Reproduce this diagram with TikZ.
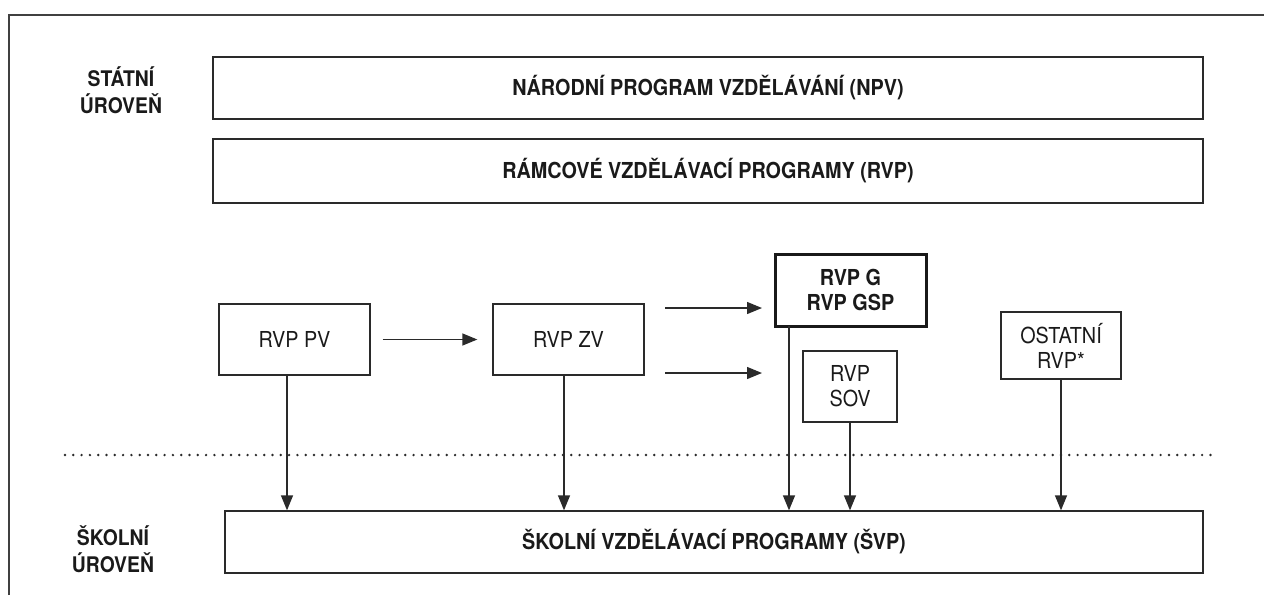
\documentclass[tikz,border=0pt]{standalone}
\usepackage{fontspec}
\setmainfont{TeX Gyre Heros}[FakeStretch=0.9]
\usetikzlibrary{arrows.meta}
\definecolor{ink}{HTML}{1A1A1A}
\definecolor{edge}{HTML}{2A2A2A}
\tikzset{
  box/.style={draw=edge, line width=1.3pt, rectangle, inner sep=0pt, align=center, text=ink,
    font=\fontsize{22}{25}\selectfont},
  wide/.style={box, font=\fontsize{22}{25}\selectfont\bfseries},
  boldbox/.style={box, draw=black!90, line width=3pt, font=\fontsize{22}{25}\selectfont\bfseries},
  lvl/.style={align=center, text=ink, inner sep=0pt, font=\fontsize{21.5}{27}\selectfont\bfseries},
  arr/.style={draw=edge, line width=1.3pt, -{Triangle[length=15pt,width=12pt]}, color=edge},
  dotmark/.style={fill=edge, draw=none},
  frame/.style={draw=black!75, line width=1.3pt}
}
\begin{document}
\begin{tikzpicture}[x=1pt,y=-1pt]
\useasboundingbox (0,0) rectangle (1264,595);
\draw[frame] (9,595) -- (9,15) -- (1264,15);

\node[lvl] (lstat) at (121,90) {STÁTNÍ\\ÚROVEŇ};
\node[lvl] (lskol) at (113,549) {ŠKOLNÍ\\ÚROVEŇ};

\node[wide, minimum width=990pt, minimum height=62pt] (npv) at (708,88) {NÁRODNÍ PROGRAM VZDĚLÁVÁNÍ (NPV)};
\node[wide, minimum width=990pt, minimum height=64pt] (rvp) at (708,171) {RÁMCOVÉ VZDĚLÁVACÍ PROGRAMY (RVP)};

\node[box, minimum width=151pt, minimum height=71pt] (pv) at (294.5,339.5) {RVP PV};
\node[box, minimum width=151pt, minimum height=71pt] (zv) at (568.5,339.5) {RVP ZV};
\node[boldbox, minimum width=151pt, minimum height=72pt] (g) at (850.5,290) {RVP G\\RVP GSP};
\node[box, minimum width=94pt, minimum height=71pt] (sov) at (850,386.5) {RVP\\SOV};
\node[box, minimum width=120pt, minimum height=67pt] (ost) at (1061,345.5) {OSTATNÍ\\RVP*};

\node[wide, minimum width=978pt, minimum height=62pt] (svp) at (714,542) {ŠKOLNÍ VZDĚLÁVACÍ PROGRAMY (ŠVP)};

% dotted divider
\foreach \i in {0,...,138} {
  \fill[dotmark] (65+\i*8.3,455) circle (1.35pt);
}

% horizontal arrows
\draw[arr] ([xshift=12pt]pv.east) -- ([xshift=-15pt]zv.west);
\coordinate (a1s) at (665,308);
\coordinate (a1e) at (762,308);
\coordinate (a2s) at (665,373);
\coordinate (a2e) at (762,373);
\draw[arr] (a1s) -- (a1e);
\draw[arr] (a2s) -- (a2e);

% vertical arrows to SVP
\coordinate (xpv) at (287,0);
\coordinate (xzv) at (564,0);
\coordinate (xg) at (789,0);
\coordinate (xsov) at (850,0);
\coordinate (xost) at (1061,0);
\draw[arr] (pv.south -| xpv) -- (svp.north -| xpv);
\draw[arr] (zv.south -| xzv) -- (svp.north -| xzv);
\draw[arr] ([yshift=1.5pt]g.south -| xg) -- (svp.north -| xg);
\draw[arr] (sov.south -| xsov) -- (svp.north -| xsov);
\draw[arr] (ost.south -| xost) -- (svp.north -| xost);
\end{tikzpicture}
\end{document}
